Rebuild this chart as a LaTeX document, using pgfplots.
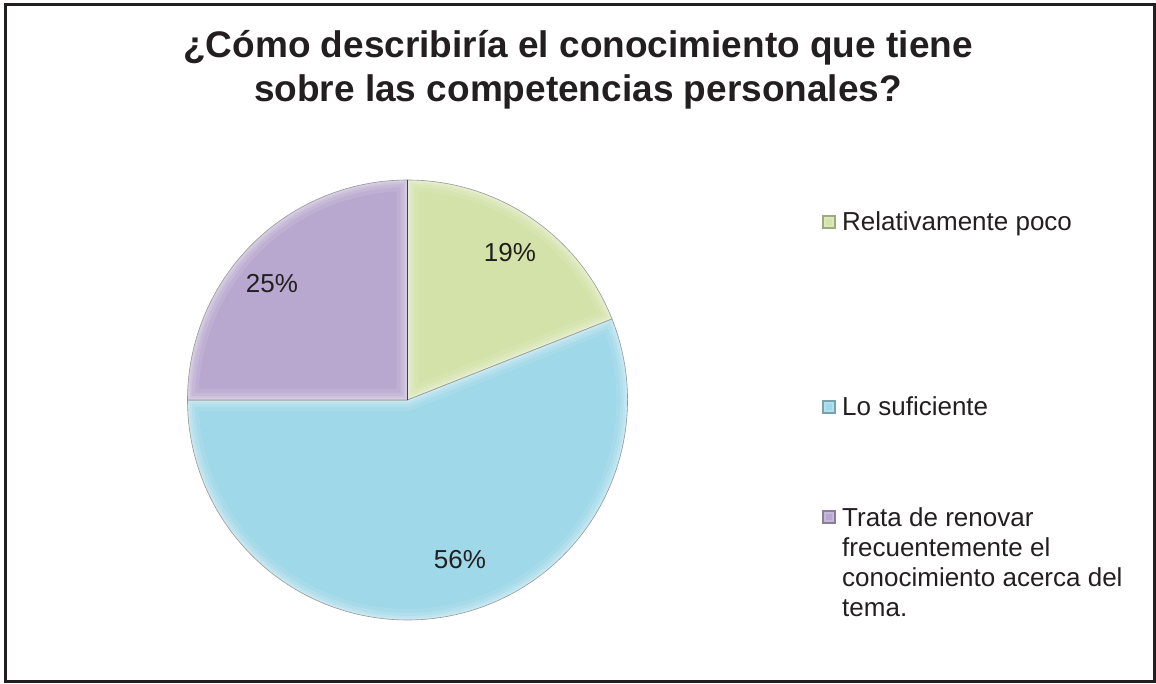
\documentclass[border=0pt]{standalone}
\usepackage{pgfplots}
\pgfplotsset{compat=1.18}
\usepackage{fontspec}
\setmainfont{Liberation Sans}
\definecolor{cgreen}{HTML}{D2E2A8}
\definecolor{cblue}{HTML}{9FD8E8}
\definecolor{cpurple}{HTML}{B8A8CF}
\definecolor{txt}{HTML}{231F20}
% values (percent)
\def\vA{19}\def\vB{56}\def\vC{25}
\pgfmathsetmacro\aA{90}
\pgfmathsetmacro\aB{90-3.6*\vA}
\pgfmathsetmacro\aC{\aB-3.6*\vB}
\pgfmathsetmacro\aD{\aC-3.6*\vC}
\def\cx{407.5}\def\cy{283}
\newcommand\slicepath[2]{(axis cs:\cx,\cy) -- ++(#1:220pt) arc[start angle=#1,end angle=#2,radius=220pt] -- cycle}
\newcommand\slice[3]{%
  \fill[#3] \slicepath{#1}{#2};
  \begin{scope}
    \clip \slicepath{#1}{#2};
    \draw[white,opacity=.10,line width=22pt] \slicepath{#1}{#2};
    \draw[white,opacity=.12,line width=14pt] \slicepath{#1}{#2};
    \draw[white,opacity=.15,line width=8pt] \slicepath{#1}{#2};
    \draw[white,opacity=.18,line width=4pt] \slicepath{#1}{#2};
  \end{scope}
  \draw[black!40,line width=.6pt] \slicepath{#1}{#2};
}
\newcommand\legsq[2]{%
  \fill[#1!75!black] (axis cs:822,#2-7) rectangle (axis cs:836,#2+7);
  \fill[#1!80!white] (axis cs:824,#2-5) rectangle (axis cs:834,#2+5);
  \fill[#1] (axis cs:826,#2-3) rectangle (axis cs:832,#2+3);
}
\begin{document}
\begin{tikzpicture}
\begin{axis}[hide axis, scale only axis, width=1156pt, height=683pt,
  xmin=0, xmax=1156, ymin=0, ymax=683, xtick=\empty, ytick=\empty, clip=false]
\addplot[draw=none] coordinates {(0,0) (1156,683)};
% frame
\draw[txt, line width=3pt] (axis cs:5,678.5) rectangle (axis cs:1154.5,1.5);
% title
\node[anchor=base, text=txt, font=\bfseries\fontsize{37}{44}\selectfont] at (axis cs:578,625) {¿Cómo describiría el conocimiento que tiene};
\node[anchor=base, text=txt, font=\bfseries\fontsize{37}{44}\selectfont] at (axis cs:578,581) {sobre las competencias personales?};
% pie
\slice{\aA}{\aB}{cgreen}
\slice{\aB}{\aC}{cblue}
\slice{\aC}{\aD}{cpurple}
\draw[black!75, line width=1.2pt] (axis cs:\cx,\cy) -- (axis cs:\cx,503);
% percent labels
\node[text=txt, font=\fontsize{26}{30}\selectfont] at (axis cs:510,430) {19\%};
\node[text=txt, font=\fontsize{26}{30}\selectfont] at (axis cs:460,123) {56\%};
\node[text=txt, font=\fontsize{26}{30}\selectfont] at (axis cs:272,399) {25\%};
% legend
\legsq{cgreen}{461}
\legsq{cblue}{276}
\legsq{cpurple}{166}
\node[anchor=base west, inner sep=0pt, text=txt, font=\fontsize{26}{30}\selectfont] at (axis cs:842,452) {Relativamente poco};
\node[anchor=base west, inner sep=0pt, text=txt, font=\fontsize{26}{30}\selectfont] at (axis cs:842,267) {Lo suficiente};
\node[anchor=base west, inner sep=0pt, text=txt, font=\fontsize{26}{30}\selectfont] at (axis cs:842,157) {Trata de renovar};
\node[anchor=base west, inner sep=0pt, text=txt, font=\fontsize{26}{30}\selectfont] at (axis cs:842,127) {frecuentemente el};
\node[anchor=base west, inner sep=0pt, text=txt, font=\fontsize{26}{30}\selectfont] at (axis cs:842,97) {conocimiento acerca del};
\node[anchor=base west, inner sep=0pt, text=txt, font=\fontsize{26}{30}\selectfont] at (axis cs:842,67) {tema.};
\end{axis}
\end{tikzpicture}
\end{document}
